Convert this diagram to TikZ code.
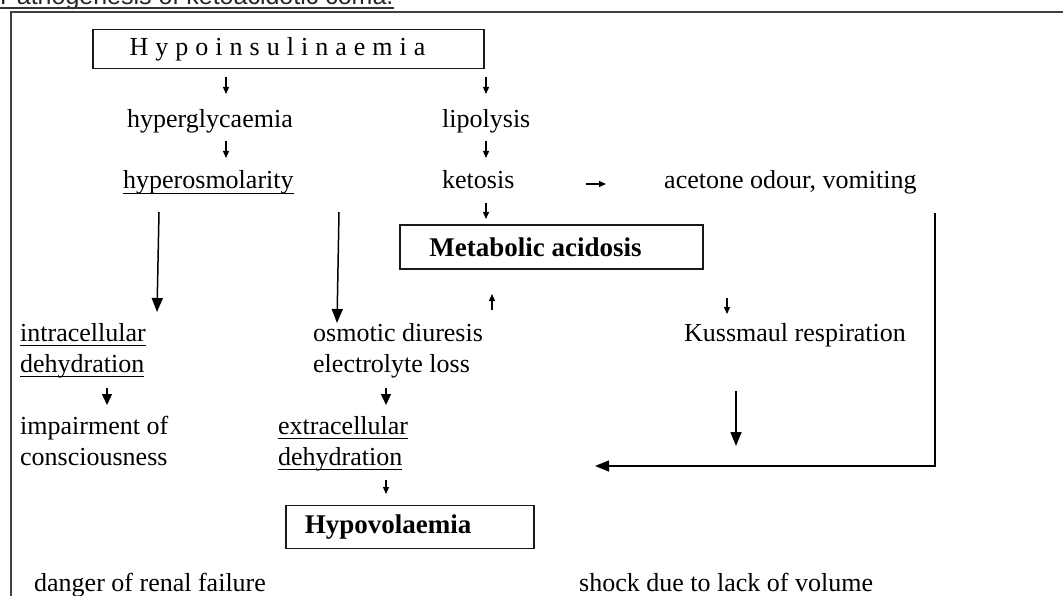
\documentclass[tikz,border=0pt]{standalone}
\usepackage{fontspec}
\setmainfont{Liberation Serif}
\newfontfamily\titlefont{Liberation Sans}
\newfontfamily\spacedfont[LetterSpace=27]{Liberation Serif}
\usetikzlibrary{arrows.meta}
\newcommand{\myul}[1]{{\setbox0\hbox{#1}\rlap{\rule[-5pt]{\wd0}{1.2pt}}\box0}}
\begin{document}
\begin{tikzpicture}[x=1pt,y=-1pt,
  txt/.style={anchor=base west, inner sep=0pt, font=\fontsize{26}{30}\selectfont},
  bx/.style={draw=black!90, line width=1.6pt, inner sep=0pt, font=\fontsize{27}{30}\selectfont\bfseries},
  frm/.style={draw=black!75, line width=2pt},
  sarr/.style={line width=1.3pt, -{Triangle[length=7pt,width=6pt]}},
  marr/.style={line width=1.4pt, -{Triangle[length=11pt,width=10pt]}},
  larr/.style={line width=1.5pt, -{Triangle[length=14pt,width=11pt]}}
]
\useasboundingbox (0,0) rectangle (1063,596);
\fill[white] (0,0) rectangle (1063,596);
% title (cut off at top, as in the reference)
\node[anchor=base west, inner sep=0pt, text=black!85, font=\titlefont\fontsize{25}{28}\selectfont] (title) at (0,5) {Pathogenesis of ketoacidotic coma.};
\draw[line width=2pt, black!80] ([yshift=-3pt]title.base west) -- ([yshift=-3pt]title.base east);
% frame
\draw[frm] (11,596) -- (11,12) -- (1063,12);
% boxes
\node[bx, minimum width=391pt, minimum height=39pt, font=\spacedfont\fontsize{26}{28}\selectfont] (hypo) at (288.5,49) {Hypoinsulinaemia\kern22pt};
\node[bx, minimum width=303pt, minimum height=44pt] (meta) at (551.5,247) {Metabolic acidosis\kern32pt};
\node[bx, minimum width=248pt, minimum height=43pt] (hypov) at (410,527) {Hypovolaemia\kern44pt};
% texts
\node[txt] (hyperg) at (127,128) {hyperglycaemia};
\node[txt] (lipo) at (442,128) {lipolysis};
\node[txt] (hyperosm) at (123,189) {\myul{hyperosmolarity}};
\node[txt] (keto) at (442,189) {ketosis};
\node[txt] (acet) at (664,189) {acetone odour, vomiting};
\node[txt] (intra1) at (20,341) {\myul{intracellular}};
\node[txt] (intra2) at (20,372) {\myul{dehydration}};
\node[txt] (osm1) at (313,341) {osmotic diuresis};
\node[txt] (osm2) at (313,372) {electrolyte loss};
\node[txt] (kuss) at (684,341) {Kussmaul respiration};
\node[txt] (imp1) at (20,434) {impairment of};
\node[txt] (imp2) at (20,465) {consciousness};
\node[txt] (extra1) at (278,434) {\myul{extracellular}};
\node[txt] (extra2) at (278,465) {\myul{dehydration}};
\node[txt] (renal) at (34,591) {danger of renal failure};
\node[txt] (shock) at (579,591) {shock due to lack of volume};
% small arrow coordinates
\coordinate (a1s) at (226,77);  \coordinate (a1e) at (226,94);
\coordinate (a2s) at (486,77);  \coordinate (a2e) at (486,94);
\coordinate (a3s) at (226,141); \coordinate (a3e) at (226,158);
\coordinate (a4s) at (486,141); \coordinate (a4e) at (486,158);
\coordinate (a5s) at (486,203); \coordinate (a5e) at (486,219);
\coordinate (a6s) at (586,184); \coordinate (a6e) at (606,184);
\coordinate (a7s) at (492,310); \coordinate (a7e) at (492,294);
\coordinate (a8s) at (727,298); \coordinate (a8e) at (727,314);
\coordinate (a9s) at (386,480); \coordinate (a9e) at (386,494);
\coordinate (m1s) at (107,388); \coordinate (m1e) at (107,405);
\coordinate (m2s) at (386,388); \coordinate (m2e) at (386,405);
\coordinate (l1s) at (159,212); \coordinate (l1e) at (157,312);
\coordinate (l2s) at (339,212); \coordinate (l2e) at (337,323);
\coordinate (l3s) at (736,391); \coordinate (l3e) at (736,446);
\coordinate (r1) at (935,213); \coordinate (r2) at (935,466); \coordinate (r3) at (595,466);
\foreach \n in {1,...,9} \draw[sarr] (a\n s) -- (a\n e);
\draw[marr] (m1s) -- (m1e);
\draw[marr] (m2s) -- (m2e);
\draw[larr] (l1s) -- (l1e);
\draw[larr] (l2s) -- (l2e);
\draw[larr] (l3s) -- (l3e);
\draw[larr] (r1) -- (r2) -- (r3);
\end{tikzpicture}
\end{document}
